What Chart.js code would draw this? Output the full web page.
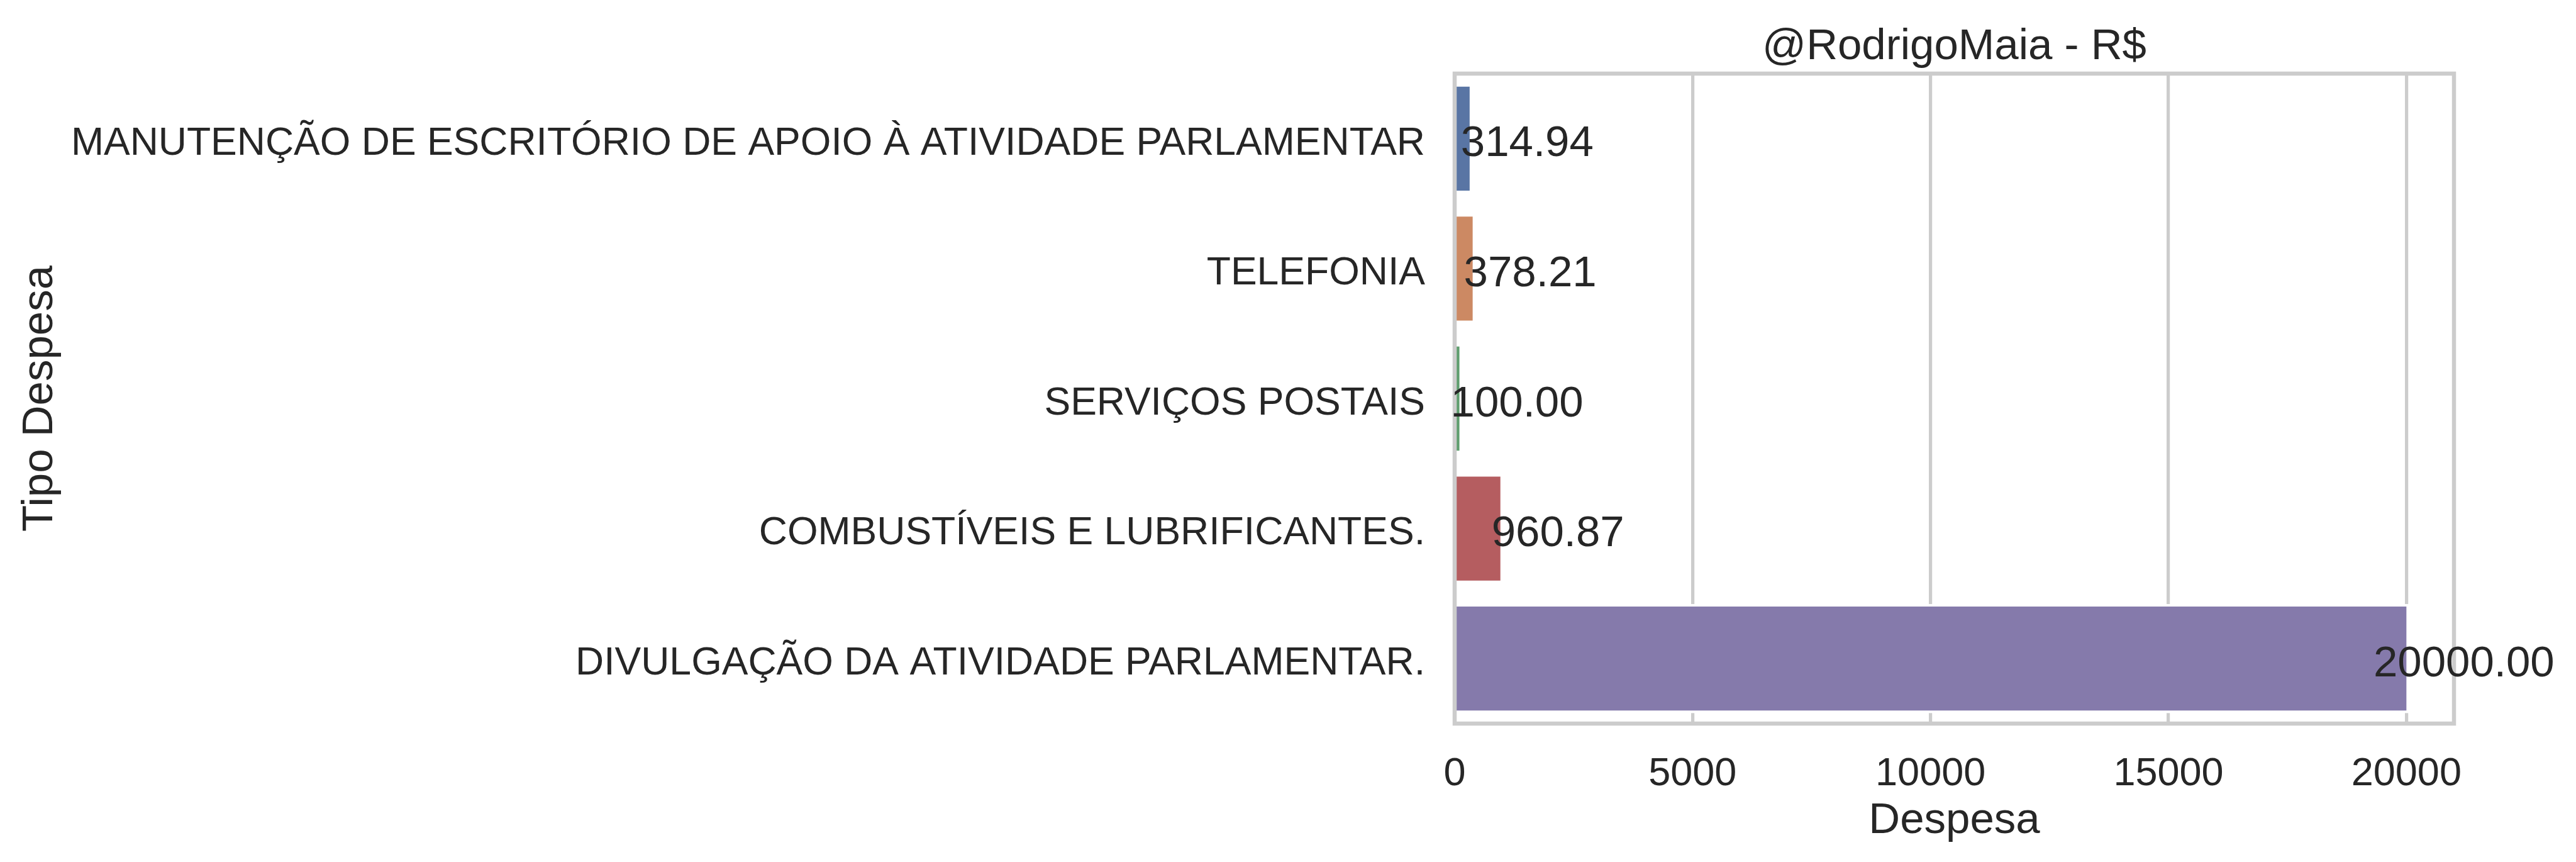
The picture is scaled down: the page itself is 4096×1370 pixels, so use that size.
<!DOCTYPE html>
<html><head><meta charset="utf-8">
<script src="https://cdn.jsdelivr.net/npm/chart.js@4/dist/chart.umd.min.js"></script>
<style>html,body{margin:0;padding:0;background:#fff;overflow:hidden}#wrap{width:4096px;height:1370px;position:relative}</style>
</head><body><div id="wrap"><canvas id="c" width="4096" height="1370"></canvas></div>
<script>
const categories = ['MANUTENÇÃO DE ESCRITÓRIO DE APOIO À ATIVIDADE PARLAMENTAR', 'TELEFONIA', 'SERVIÇOS POSTAIS', 'COMBUSTÍVEIS E LUBRIFICANTES.', 'DIVULGAÇÃO DA ATIVIDADE PARLAMENTAR.'];
const values = [314.94, 378.21, 100.00, 960.87, 20000.00];
const xTicks = [0, 5000, 10000, 15000, 20000];
const xMax = 21000;
const titleText = '@RodrigoMaia - R$';
const xLabel = 'Despesa';
const yLabel = 'Tipo Despesa';

const palette = ['#5975a4', '#cc8963', '#5f9e6e', '#b55d60', '#857aab'];
const FONT = '"Liberation Sans", Arial, sans-serif';
const INK = '#262626';
const GRID = '#cccccc';

const framePlugin = {
  id: 'frame',
  beforeDatasetsDraw(chart) {
    const ctx = chart.ctx;
    const meta = chart.getDatasetMeta(0);
    ctx.save();
    ctx.strokeStyle = '#ffffff';
    ctx.lineWidth = 8;
    meta.data.forEach(bar => {
      const p = bar.getProps(['x', 'y', 'base', 'height'], true);
      ctx.strokeRect(p.base, p.y - p.height / 2, p.x - p.base, p.height);
    });
    ctx.restore();
  },
  afterDatasetsDraw(chart) {
    const ctx = chart.ctx;
    const a = chart.chartArea;
    ctx.save();
    ctx.strokeStyle = GRID;
    ctx.lineWidth = 6.5;
    ctx.strokeRect(a.left, a.top, a.right - a.left, a.bottom - a.top);
    ctx.restore();
  },
  afterDraw(chart) {
    const ctx = chart.ctx;
    const meta = chart.getDatasetMeta(0);
    ctx.save();
    ctx.fillStyle = INK;
    ctx.font = '69px ' + FONT;
    ctx.textAlign = 'center';
    ctx.textBaseline = 'middle';
    meta.data.forEach((bar, i) => {
      const p = bar.getProps(['x', 'y'], true);
      ctx.fillText(values[i].toFixed(2), p.x + 91.5, p.y + 9);
    });
    ctx.restore();
  }
};

new Chart(document.getElementById('c'), {
  type: 'bar',
  data: {
    labels: categories,
    datasets: [{
      data: values,
      backgroundColor: palette,
      borderWidth: 0,
      barPercentage: 0.8,
      categoryPercentage: 1.0
    }]
  },
  options: {
    indexAxis: 'y',
    responsive: false,
    devicePixelRatio: 1,
    animation: false,
    layout: { padding: { left: 0, right: 194, top: 0, bottom: 0 } },
    plugins: {
      legend: { display: false },
      tooltip: { enabled: false },
      title: {
        display: true,
        text: titleText,
        fullSize: false,
        color: INK,
        font: { family: FONT, size: 69, weight: 'normal', lineHeight: 1 },
        padding: { top: 40, bottom: 8 }
      }
    },
    scales: {
      x: {
        type: 'linear',
        min: 0,
        max: xMax,
        afterBuildTicks(scale) { scale.ticks = xTicks.map(v => ({ value: v })); },
        afterFit(scale) { scale.height = 220; },
        grid: { display: true, color: GRID, lineWidth: 5.2, drawTicks: false },
        border: { display: false },
        ticks: {
          includeBounds: false,
          color: INK,
          padding: 43,
          maxRotation: 0,
          font: { family: FONT, size: 63 },
          callback: v => String(v)
        },
        title: {
          display: true,
          text: xLabel,
          color: INK,
          font: { family: FONT, size: 69, lineHeight: 1 },
          padding: { top: 0, bottom: 31 }
        }
      },
      y: {
        afterFit(scale) { scale.width = 2313; },
        grid: { display: false, drawTicks: false },
        border: { display: false },
        ticks: {
          color: INK,
          padding: 47,
          labelOffset: 8,
          autoSkip: false,
          font: { family: FONT, size: 62.5 }
        },
        title: {
          display: true,
          text: yLabel,
          color: INK,
          font: { family: FONT, size: 69, lineHeight: 1 },
          padding: { top: 29.5, bottom: 0 }
        }
      }
    }
  },
  plugins: [framePlugin]
});
</script>
</body></html>
